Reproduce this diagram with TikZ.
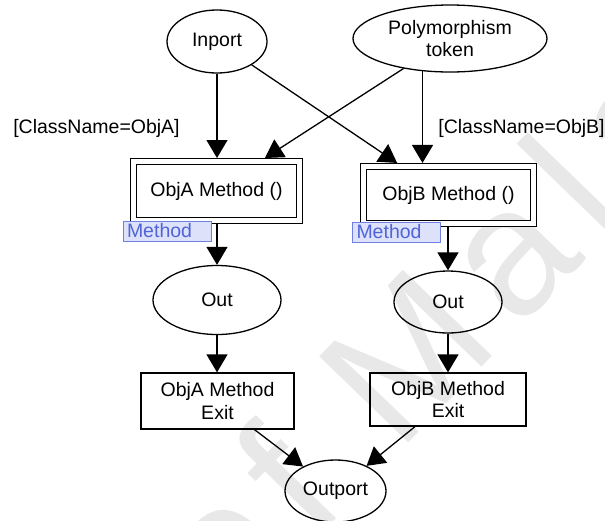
\documentclass[tikz,border=0pt]{standalone}
\usepackage{fontspec}
\setmainfont{Liberation Sans}
\newfontfamily\wmfont{Liberation Sans}[LetterSpace=12]
\usetikzlibrary{arrows.meta,shapes.geometric,calc}
\definecolor{wmgray}{RGB}{232,232,232}
\definecolor{tagfill}{RGB}{221,225,250}
\definecolor{tagdraw}{RGB}{110,128,230}
\definecolor{tagtext}{RGB}{80,100,215}

\begin{document}
\begin{tikzpicture}[x=1pt,y=-1pt,
  every node/.style={font=\fontsize{19.5}{22.5}\selectfont},
  place/.style={ellipse,draw,line width=1.3pt,inner sep=0pt},
  trans/.style={rectangle,draw,line width=1.3pt,inner sep=0pt,align=center},
  subtrans/.style={rectangle,draw,line width=1.3pt,double,double distance=4.5pt,outer sep=3.55pt,inner sep=0pt},
  tag/.style={rectangle,draw=tagdraw,fill=tagfill,text=tagtext,line width=0.9pt,inner xsep=4pt,inner ysep=0pt,minimum height=20pt,text width=80pt,align=left},
  arc/.style={line width=1.3pt,-{Triangle[width=21pt,length=18pt]}},
  guard/.style={inner sep=0pt}
]
\useasboundingbox (0,0) rectangle (605,520);

% background watermark
\begin{scope}
\clip (0,0) rectangle (605,520);
\node[text=wmgray, font=\wmfont\fontsize{180}{180}\selectfont, rotate=46, anchor=base west, inner sep=0pt] (wm) at (229.7,629) {of Malaya};
\end{scope}

% places and transitions
\node[place, minimum width=100pt, minimum height=63pt] (inport) at (217,41.5) {Inport};
\node[place, minimum width=194pt, minimum height=67pt, align=center] (poly) at (450,38.5) {Polymorphism\\token};
\node[subtrans, minimum width=165.9pt, minimum height=58.9pt] (objA) at (216.5,191) {ObjA Method ()};
\node[subtrans, minimum width=170pt, minimum height=57pt] (objB) at (448.5,195) {ObjB Method ()};
\node[tag] (tagA) at (167,231) {Method};
\node[tag] (tagB) at (396.5,232) {Method};
\node[place, minimum width=128pt, minimum height=69pt] (outA) at (217,300) {Out};
\node[place, minimum width=108pt, minimum height=62pt] (outB) at (448,302) {Out};
\node[trans, minimum width=153pt, minimum height=56pt] (exitA) at (217.5,401) {ObjA Method\\Exit};
\node[trans, minimum width=156pt, minimum height=53pt] (exitB) at (448,399.5) {ObjB Method\\Exit};
\node[place, minimum width=101pt, minimum height=62pt] (outport) at (335.5,491) {Outport};

% guards
\node[guard] (gA) at (96.5,128) {[ClassName=ObjA]};
\node[guard] (gB) at (521.5,128) {[ClassName=ObjB]};

% arcs
\draw[arc] (inport.south) -- (inport.south |- objA.north);
\draw[arc] (inport) -- ($(objB.north west)!0.21!(objB.north east)$);
\draw[arc] (poly) -- ($(objA.north west)!0.78!(objA.north east)$);
\draw[arc] (poly.-130) -- (poly.-130 |- objB.north);
\draw[arc] (outA.north |- objA.south) -- (outA.north);
\draw[arc] (outB.north |- objB.south) -- (outB.north);
\draw[arc] (outA.south) -- (outA.south |- exitA.north);
\draw[arc] (outB.south) -- (outB.south |- exitB.north);
\draw[arc] ($(exitA.south west)!0.74!(exitA.south east)$) -- (outport.143.6);
\draw[arc] ($(exitB.south west)!0.29!(exitB.south east)$) -- (outport.39.5);
\end{tikzpicture}
\end{document}
